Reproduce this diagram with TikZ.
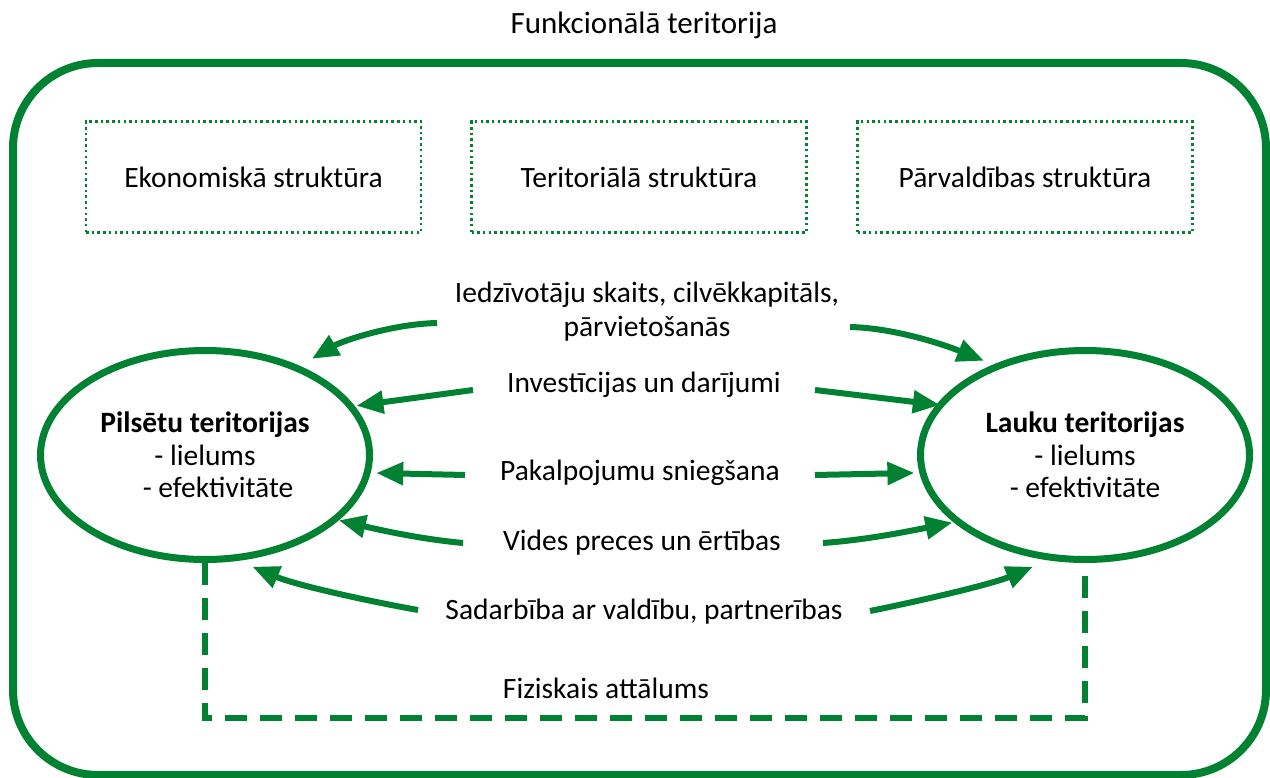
\documentclass[tikz,border=0pt]{standalone}
\usepackage{fontspec}
\setmainfont{Carlito}
\usetikzlibrary{arrows.meta,shapes.geometric,calc}
\definecolor{gr}{RGB}{0,130,50}
\begin{document}
\begin{tikzpicture}[x=1pt,y=-1pt,
  lbl/.style={font=\fontsize{29.5}{34}\selectfont, inner sep=0pt, align=center},
  sbox/.style={draw=gr, line width=2.5pt, dash pattern=on 2.5pt off 3.2pt, minimum width=335pt, minimum height=111pt, inner sep=0pt, font=\fontsize{29.5}{34}\selectfont},
  terr/.style={ellipse, draw=gr, line width=7pt, minimum width=329pt, minimum height=209pt, inner sep=0pt, align=center, font=\fontsize{29.5}{32.5}\selectfont},
  flow/.style={draw=gr, line width=6pt, -{Triangle[length=27pt,width=22pt]}},
  ]
\useasboundingbox (0,0) rectangle (1270,778);
\fill[white] (0,0) rectangle (1270,778);
% frame
\draw[gr, line width=8pt, rounded corners=85pt] (13,63) rectangle (1266,775);
\node[lbl, font=\fontsize{31}{36}\selectfont] (title) at (644,25) {Funkcionālā teritorija};
% structure boxes
\node[sbox] (b1) at (253.5,177) {Ekonomiskā struktūra};
\node[sbox] (b2) at (639,177) {Teritoriālā struktūra};
\node[sbox] (b3) at (1025,177) {Pārvaldības struktūra};
% territories
\node[terr] (L) at (205,455) {\textbf{Pilsētu teritorijas}\\- lielums\\\hspace*{26pt}- efektivitāte};
\node[terr] (R) at (1085,455) {\textbf{Lauku teritorijas}\\- lielums\\- efektivitāte};
% labels
\node[lbl] (f1) at (647,312) {Iedzīvotāju skaits, cilvēkkapitāls,\\pārvietošanās};
\node[lbl] (f2) at (644,385) {Investīcijas un darījumi};
\node[lbl] (f3) at (640,473) {Pakalpojumu sniegšana};
\node[lbl] (f4) at (642,543) {Vides preces un ērtības};
\node[lbl] (f5) at (644,612) {Sadarbība ar valdību, partnerības};
\node[lbl] (f6) at (606,688) {Fiziskais attālums};
% free ends of the flows
\coordinate (s1) at (437,323);
\coordinate (s2) at (473,390);
\coordinate (s3) at (465,475);
\coordinate (s4) at (463,543);
\coordinate (s5) at (418,610);
\coordinate (e1) at (850,327);
\coordinate (e2) at (815,390);
\coordinate (e3) at (815,475);
\coordinate (e4) at (823,543);
\coordinate (e5) at (870,611);
% left flows
\draw[flow] (s1) .. controls (392,324) and (342,341) .. ($(L.center)!1.094!(L.42.7)$);
\draw[flow] (s2) -- ($(L.center)!1.01!(L.18.8)$);
\draw[flow] (s3) -- ($(L.center)!1.033!(L.-6.3)$);
\draw[flow] (s4) .. controls (420,539) and (380,530) .. (L.-26.4);
\draw[flow] (s5) .. controls (378,603) and (298,586) .. ($(L.center)!1.072!(L.-67.7)$);
% right flows
\draw[flow] (e1) .. controls (895,328) and (945,345) .. ($(R.center)!1.06!(R.137.9)$);
\draw[flow] (e2) -- ($(R.center)!0.98!(R.161)$);
\draw[flow] (e3) -- ($(R.center)!1.029!(R.186.7)$);
\draw[flow] (e4) .. controls (865,540) and (905,532) .. ($(R.center)!1.007!(R.207.3)$);
\draw[flow] (e5) .. controls (910,603) and (990,585) .. ($(R.center)!1.08!(R.245.5)$);
% physical distance
\draw[gr, line width=6.5pt, dash pattern=on 22pt off 13pt] (L.south) -- ++(0,155) -| (R.south);
\end{tikzpicture}
\end{document}
